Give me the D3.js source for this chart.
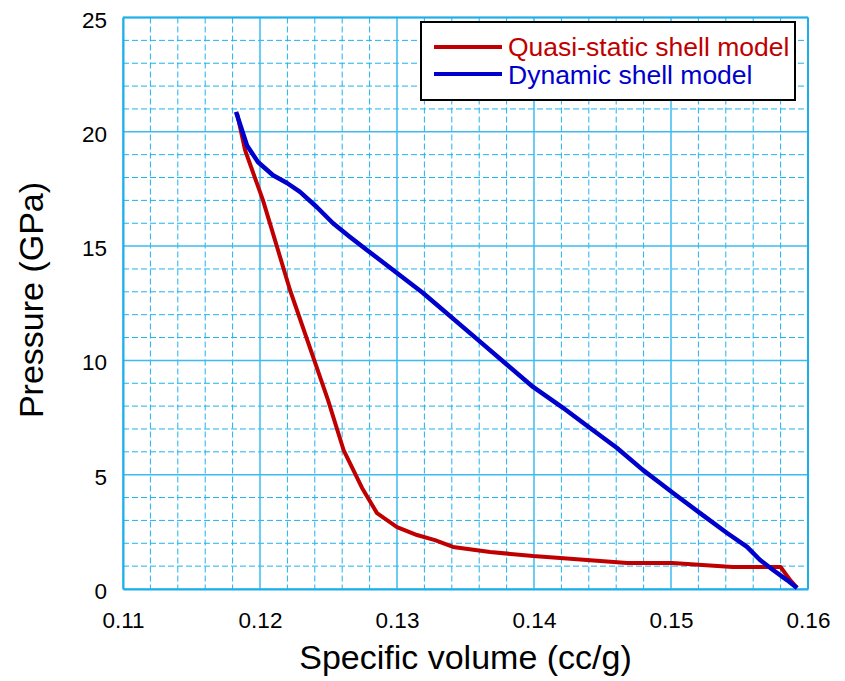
<!DOCTYPE html>
<html>
<head>
<meta charset="utf-8">
<script src="https://cdn.jsdelivr.net/npm/d3@7"></script>
<style>
  body { margin: 0; background: #fff; }
  text { font-family: "Liberation Sans", Arial, sans-serif; }
</style>
</head>
<body>
<div class="visHolder"></div>
<script>
const w = 845;
const h = 681;

// quasi-static shell model
const quasiVolume = [0.11832, 0.11891, 0.12022, 0.12219, 0.12496, 0.1261, 0.12745, 0.12854, 0.13, 0.13146,
  0.13277, 0.13409, 0.13679, 0.13993, 0.1419, 0.1468, 0.1501, 0.1545, 0.158, 0.1587, 0.1592];
const quasiPressure = [20.82, 19.2, 17.0, 13.08, 8.27, 6.08, 4.42, 3.32, 2.71, 2.36,
  2.14, 1.84, 1.62, 1.44, 1.36, 1.14, 1.14, 0.96, 0.96, 0.39, 0.05];

// dynamic shell model
const dynVolume = [0.11825, 0.11905, 0.11985, 0.12095, 0.12197, 0.12292, 0.12416, 0.12533, 0.12657, 0.1278,
  0.12876, 0.1319, 0.13606, 0.13803, 0.13993, 0.14204, 0.14409, 0.14606, 0.14796, 0.1492,
  0.15015, 0.15212, 0.15409, 0.15555, 0.1565, 0.15745, 0.15847, 0.1592];
const dynPressure = [20.87, 19.4, 18.68, 18.1, 17.76, 17.37, 16.7, 16.0, 15.4, 14.83,
  14.39, 12.95, 10.82, 9.81, 8.84, 7.96, 7.04, 6.17, 5.2, 4.64,
  4.2, 3.32, 2.45, 1.84, 1.27, 0.83, 0.39, 0.04];

const xTicks = [0.11, 0.12, 0.13, 0.14, 0.15, 0.16];
const yTicks = [0, 5, 10, 15, 20, 25];
const seriesNames = ['Quasi-static shell model', 'Dynamic shell model'];
const seriesColors = ['#c00000', '#0000cc'];

const plotLeft = 123, plotRight = 808, plotTop = 17.5, plotBottom = 589;

const svg = d3.select('.visHolder')
  .append('svg')
  .attr('width', w)
  .attr('height', h);

const xScale = d3.scaleLinear().domain([0.11, 0.16]).range([plotLeft, plotRight]);
const yScale = d3.scaleLinear().domain([0, 25]).range([plotBottom, plotTop]);

// minor grid (dashed)
const xMinor = d3.range(0, 26).map(i => 0.11 + i * 0.002).filter((d, i) => i % 5 !== 0);
const yMinor = d3.range(0, 26).filter(d => d % 5 !== 0);

const grid = svg.append('g');
grid.selectAll('.vminor')
  .data(xMinor)
  .enter()
  .append('line')
  .attr('x1', d => xScale(d)).attr('x2', d => xScale(d))
  .attr('y1', plotTop).attr('y2', plotBottom)
  .style('stroke', '#1eb2ee')
  .style('stroke-width', 1)
  .style('stroke-dasharray', '6,3');
grid.selectAll('.hminor')
  .data(yMinor)
  .enter()
  .append('line')
  .attr('x1', plotLeft).attr('x2', plotRight)
  .attr('y1', d => yScale(d)).attr('y2', d => yScale(d))
  .style('stroke', '#1eb2ee')
  .style('stroke-width', 1)
  .style('stroke-dasharray', '6,3');

// major grid (solid)
grid.selectAll('.vmajor')
  .data(xTicks)
  .enter()
  .append('line')
  .attr('x1', d => xScale(d)).attr('x2', d => xScale(d))
  .attr('y1', plotTop).attr('y2', plotBottom)
  .style('stroke', '#3dbbef')
  .style('stroke-width', 1.5);
grid.selectAll('.hmajor')
  .data(yTicks)
  .enter()
  .append('line')
  .attr('x1', plotLeft).attr('x2', plotRight)
  .attr('y1', d => yScale(d)).attr('y2', d => yScale(d))
  .style('stroke', '#3dbbef')
  .style('stroke-width', 1.5);

// axes
const xAxis = d3.axisBottom(xScale).tickValues(xTicks).tickSize(0).tickPadding(0).tickFormat(d3.format('.2f'));
const gx = svg.append('g')
  .attr('transform', 'translate(0,' + plotBottom + ')')
  .call(xAxis);
gx.select('.domain').style('stroke', '#1eaee8').style('stroke-width', 2);
gx.selectAll('text')
  .attr('y', 39)
  .attr('dy', 0)
  .style('font-size', '22.5px')
  .style('font-family', '"Liberation Sans", Arial, sans-serif')
  .style('fill', '#000');

const yAxis = d3.axisLeft(yScale).tickValues(yTicks).tickSize(0).tickPadding(0);
const gy = svg.append('g')
  .attr('transform', 'translate(' + plotLeft + ',0)')
  .call(yAxis);
gy.select('.domain').style('stroke', '#1eaee8').style('stroke-width', 2);
gy.selectAll('text')
  .attr('x', -16)
  .attr('dy', 0)
  .attr('y', 9.5)
  .style('font-size', '22.5px')
  .style('font-family', '"Liberation Sans", Arial, sans-serif')
  .style('fill', '#000');

// right + top frame
svg.append('line')
  .attr('x1', plotRight).attr('x2', plotRight).attr('y1', plotTop).attr('y2', plotBottom)
  .style('stroke', '#1eaee8').style('stroke-width', 2);
svg.append('line')
  .attr('x1', plotLeft).attr('x2', plotRight).attr('y1', plotTop).attr('y2', plotTop)
  .style('stroke', '#1eaee8').style('stroke-width', 2);

// curves
const line = d3.line()
  .x(d => xScale(d[0]))
  .y(d => yScale(d[1]));

const quasiData = quasiVolume.map((v, i) => [v, quasiPressure[i]]);
const dynData = dynVolume.map((v, i) => [v, dynPressure[i]]);

svg.append('path')
  .datum(quasiData)
  .attr('d', line)
  .style('fill', 'none')
  .style('stroke', seriesColors[0])
  .style('stroke-width', 4)
  .style('stroke-linejoin', 'round');

svg.append('path')
  .datum(dynData)
  .attr('d', line)
  .style('fill', 'none')
  .style('stroke', seriesColors[1])
  .style('stroke-width', 4.5)
  .style('stroke-linejoin', 'round');

// axis titles
svg.append('text')
  .attr('x', (plotLeft + plotRight) / 2)
  .attr('y', 669)
  .attr('text-anchor', 'middle')
  .style('font-size', '34px')
  .text('Specific volume (cc/g)');

svg.append('text')
  .attr('transform', 'rotate(-90)')
  .attr('x', -300)
  .attr('y', 43)
  .attr('text-anchor', 'middle')
  .style('font-size', '34px')
  .text('Pressure (GPa)');

// legend
const legend = svg.append('g').attr('id', 'legend');
legend.append('rect')
  .attr('x', 421)
  .attr('y', 22)
  .attr('width', 374)
  .attr('height', 78)
  .style('fill', '#fff')
  .style('stroke', '#000')
  .style('stroke-width', 2);

seriesNames.forEach((name, i) => {
  legend.append('line')
    .attr('x1', 434).attr('x2', 502)
    .attr('y1', 47 + i * 27).attr('y2', 47 + i * 27)
    .style('stroke', seriesColors[i])
    .style('stroke-width', 4);
  legend.append('text')
    .attr('x', 508)
    .attr('y', 56 + i * 28)
    .style('font-size', '26.5px')
    .style('fill', seriesColors[i])
    .text(name);
});
</script>
</body>
</html>
